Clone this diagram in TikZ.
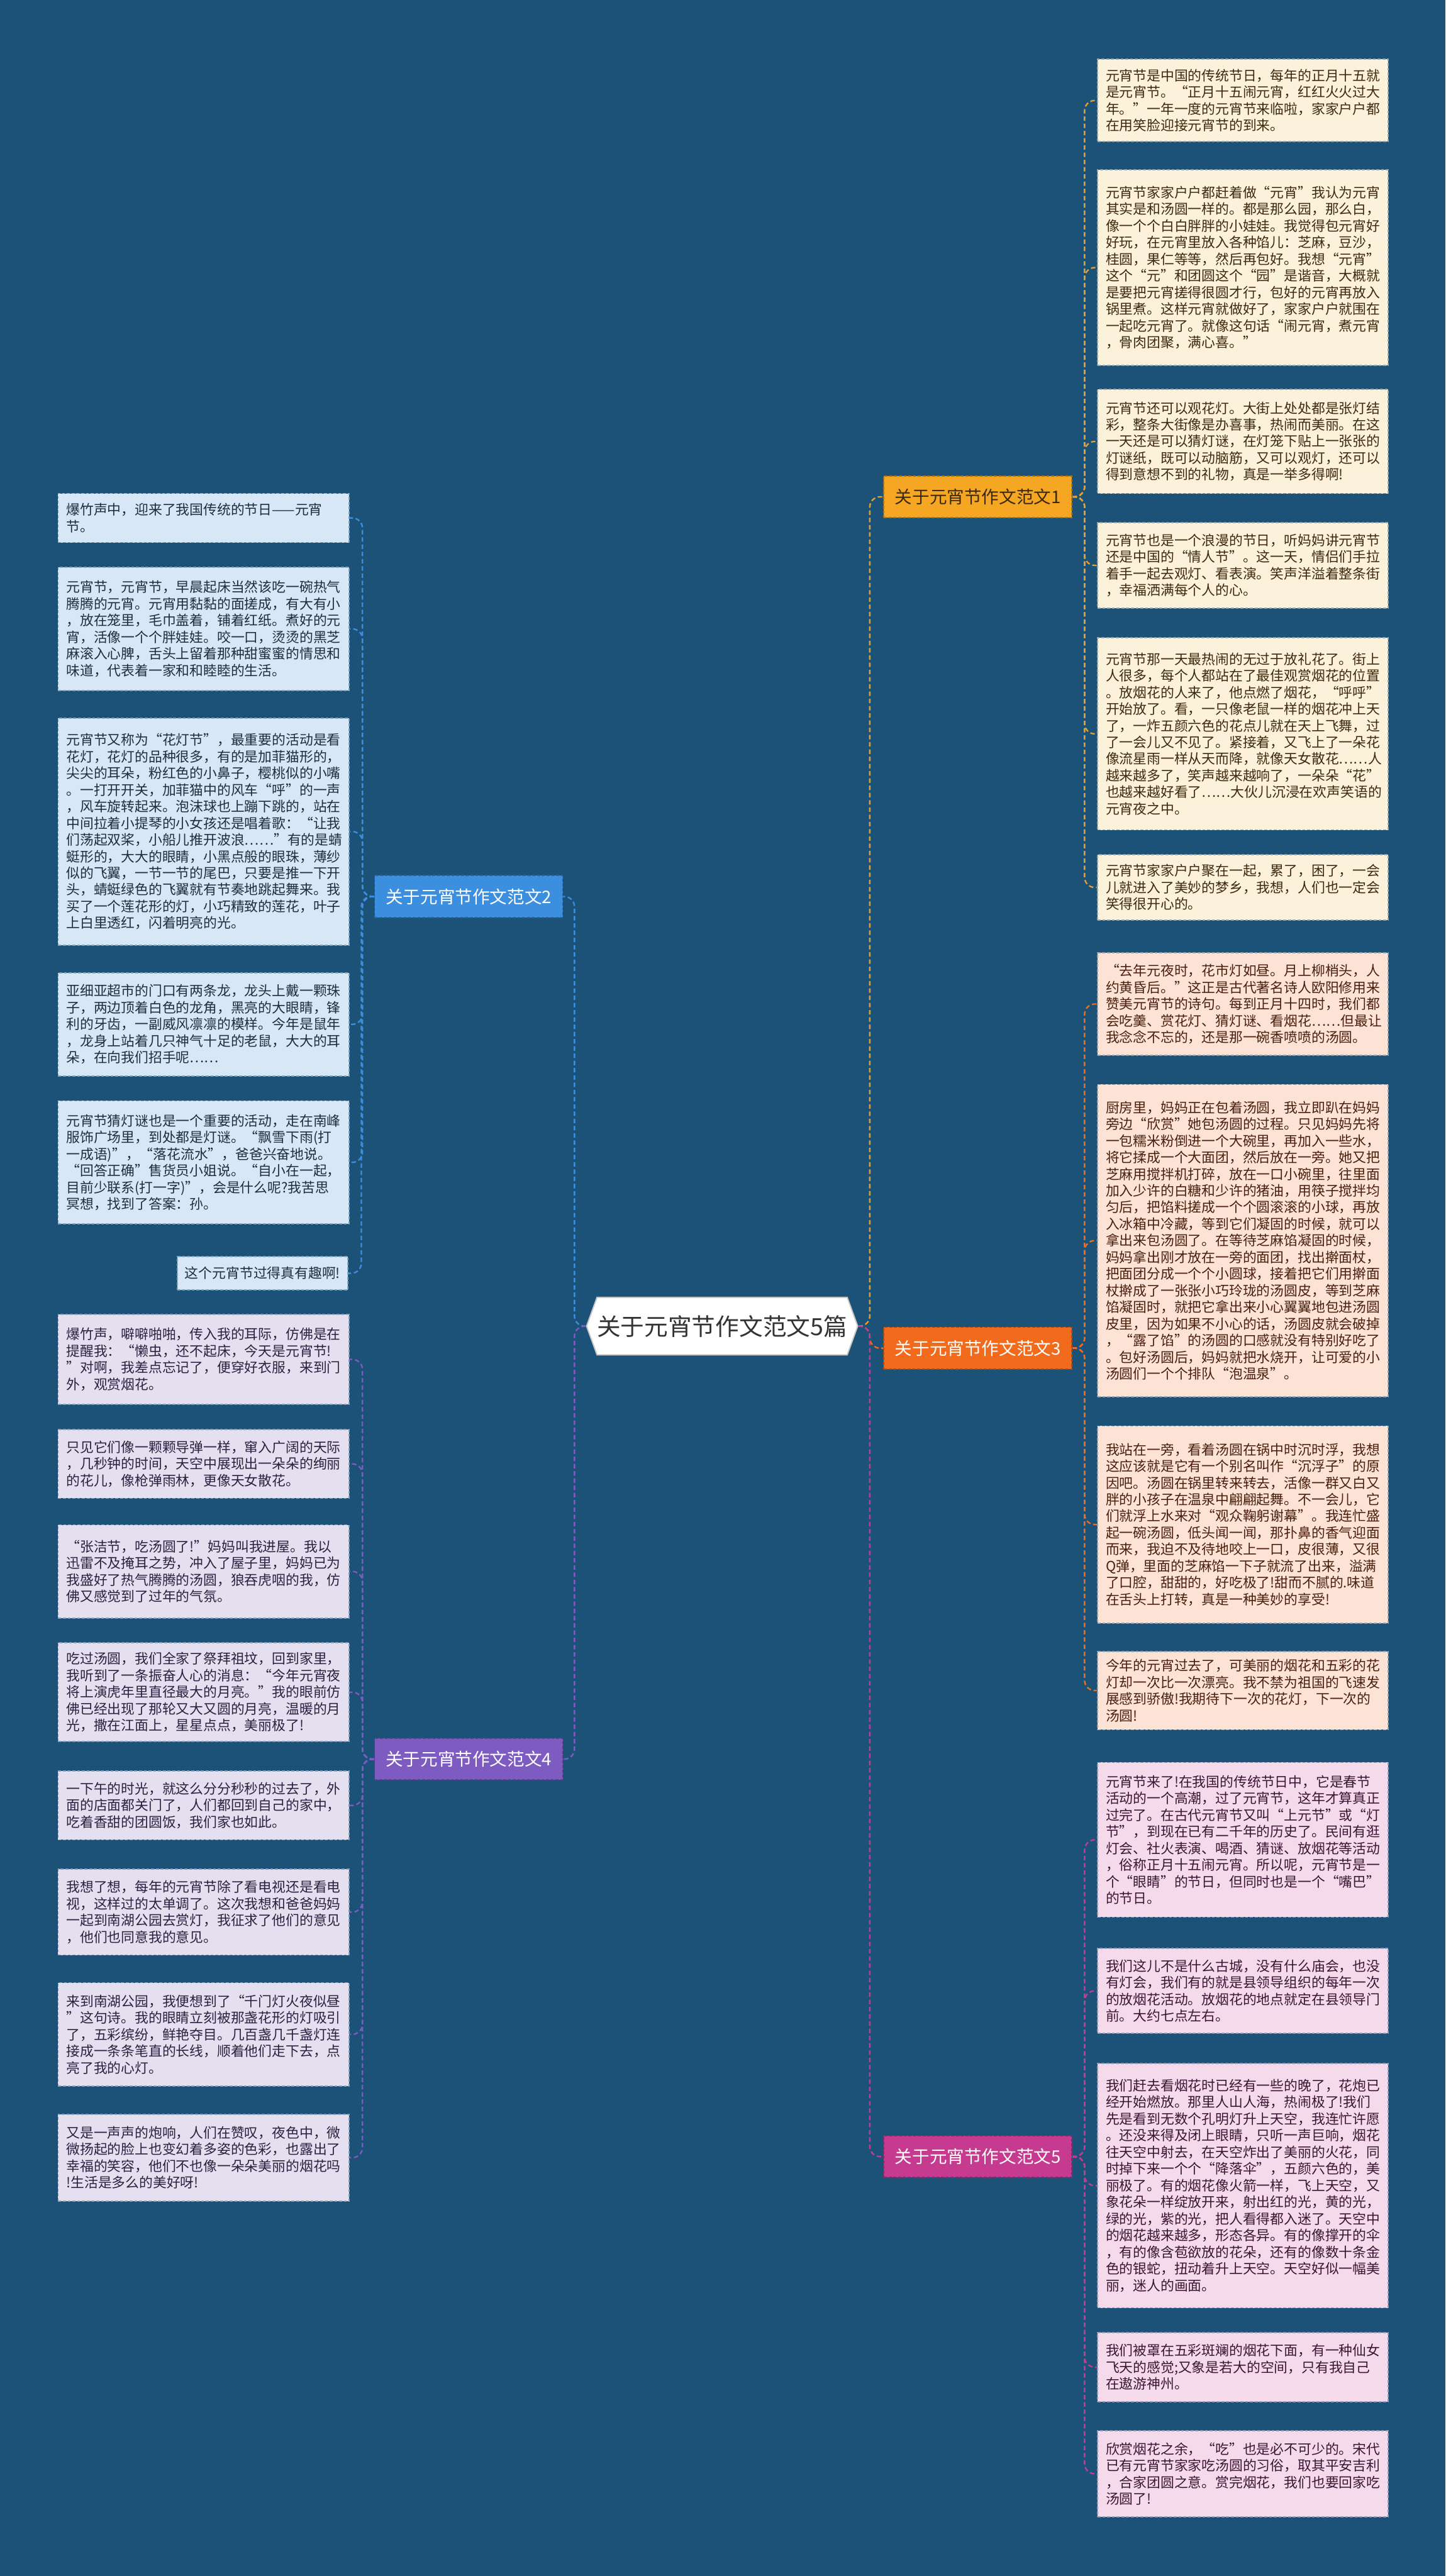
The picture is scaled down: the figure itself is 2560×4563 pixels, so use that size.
\documentclass[tikz,border=0pt]{standalone}
\usepackage{fontspec}
\setmainfont{Noto Sans CJK SC}
\usetikzlibrary{shapes.symbols}
\newlength\pxu
\setlength\pxu{0.02cm}
\definecolor{bgc}{HTML}{1C5277}
\definecolor{cA}{HTML}{F5A623}
\definecolor{cB}{HTML}{3C8FDE}
\definecolor{cC}{HTML}{F26B1D}
\definecolor{cD}{HTML}{7E5BC0}
\definecolor{cE}{HTML}{C63B8F}
\definecolor{fA}{HTML}{FCF1DA}
\definecolor{fB}{HTML}{D7E7F6}
\definecolor{fC}{HTML}{FCE3D5}
\definecolor{fD}{HTML}{E5E0F0}
\definecolor{fE}{HTML}{F5DAEC}
\definecolor{tA}{HTML}{3E2A0E}
\definecolor{tB}{HTML}{1F2D3D}
\definecolor{tC}{HTML}{4A1F0E}
\definecolor{tD}{HTML}{2B2140}
\definecolor{tE}{HTML}{3B1533}
\definecolor{ctext}{HTML}{333333}
\definecolor{bAtext}{HTML}{3A2A10}
\newcommand\myleaffont{\fontsize{13.83pt}{16.79pt}\selectfont}
\newcommand\mybranchfont{\fontsize{17.5pt}{20pt}\selectfont}
\newcommand\mycenterfont{\fontsize{23.9pt}{28pt}\selectfont}
\tikzset{
  x={(0.02cm,0)}, y={(0,-0.02cm)},
  hh/.style={minimum height=#1\pxu},
  leafbase/.style={rectangle, anchor=north west, minimum width=515\pxu, inner xsep=14.5\pxu, inner ysep=0pt, text width=486\pxu, align=left, font=\myleaffont, line width=1.1pt, dash pattern=on 3pt off 1.8pt},
  lA/.style={leafbase, fill=fA, draw=fA!55!bgc, text=tA},
  lB/.style={leafbase, fill=fB, draw=fB!55!bgc, text=tB},
  lC/.style={leafbase, fill=fC, draw=fC!55!bgc, text=tC},
  lD/.style={leafbase, fill=fD, draw=fD!55!bgc, text=tD},
  lE/.style={leafbase, fill=fE, draw=fE!55!bgc, text=tE},
  branch/.style={rectangle, minimum width=333\pxu, minimum height=74\pxu, inner sep=0pt, font=\mybranchfont, text=white, line width=1.1pt, dash pattern=on 3pt off 1.8pt},
  link/.style={line width=1.5pt, dash pattern=on 4.5pt off 2.8pt, rounded corners=18\pxu},
}
\begin{document}
\begin{tikzpicture}
\useasboundingbox (0,0) rectangle (2560,4563);
\fill[bgc] (0,0) rectangle (2560,4563);

% center
\node[signal, signal to=east and west, signal pointer angle=140, fill=white, draw=gray!45, line width=1.2pt, minimum width=480\pxu, minimum height=102\pxu, inner sep=0pt, font=\mycenterfont, text=ctext] (c) at (1279,2349) {关于元宵节作文范文5篇};

% branches
\node[branch, fill=cA, draw=cA!70!black, text=bAtext] (b1) at (1732,880) {关于元宵节作文范文1};
\node[branch, fill=cB, draw=cB!70!black] (b2) at (830,1588) {关于元宵节作文范文2};
\node[branch, fill=cC, draw=cC!70!black] (b3) at (1732,2388) {关于元宵节作文范文3};
\node[branch, fill=cD, draw=cD!70!black] (b4) at (830,3116) {关于元宵节作文范文4};
\node[branch, fill=cE, draw=cE!70!black] (b5) at (1732,3820) {关于元宵节作文范文5};

% branch 1 leaves
\node[lA,hh=146] (r1) at (1943,104) {元宵节是中国的传统节日，每年的正月十五就\\是元宵节。“正月十五闹元宵，红红火火过大\\年。”一年一度的元宵节来临啦，家家户户都\\在用笑脸迎接元宵节的到来。};
\node[lA,hh=346] (r2) at (1943,300) {元宵节家家户户都赶着做“元宵”我认为元宵\\其实是和汤圆一样的。都是那么园，那么白，\\像一个个白白胖胖的小娃娃。我觉得包元宵好\\好玩，在元宵里放入各种馅儿：芝麻，豆沙，\\桂圆，果仁等等，然后再包好。我想“元宵”\\这个“元”和团圆这个“园”是谐音，大概就\\是要把元宵搓得很圆才行，包好的元宵再放入\\锅里煮。这样元宵就做好了，家家户户就围在\\一起吃元宵了。就像这句话“闹元宵，煮元宵\\，骨肉团聚，满心喜。”};
\node[lA,hh=184] (r3) at (1943,689) {元宵节还可以观花灯。大街上处处都是张灯结\\彩，整条大街像是办喜事，热闹而美丽。在这\\一天还是可以猜灯谜，在灯笼下贴上一张张的\\灯谜纸，既可以动脑筋，又可以观灯，还可以\\得到意想不到的礼物，真是一举多得啊!};
\node[lA,hh=151] (r4) at (1943,925) {元宵节也是一个浪漫的节日，听妈妈讲元宵节\\还是中国的“情人节”。这一天，情侣们手拉\\着手一起去观灯、看表演。笑声洋溢着整条街\\，幸福洒满每个人的心。};
\node[lA,hh=340] (r5) at (1943,1129) {元宵节那一天最热闹的无过于放礼花了。街上\\人很多，每个人都站在了最佳观赏烟花的位置\\。放烟花的人来了，他点燃了烟花，“呼呼”\\开始放了。看，一只像老鼠一样的烟花冲上天\\了，一炸五颜六色的花点儿就在天上飞舞，过\\了一会儿又不见了。紧接着，又飞上了一朵花\\像流星雨一样从天而降，就像天女散花……人\\越来越多了，笑声越来越响了，一朵朵“花”\\也越来越好看了……大伙儿沉浸在欢声笑语的\\元宵夜之中。};
\node[lA,hh=116] (r6) at (1943,1513) {元宵节家家户户聚在一起，累了，困了，一会\\儿就进入了美妙的梦乡，我想，人们也一定会\\笑得很开心的。};

% branch 3 leaves
\node[lC,hh=181] (r7) at (1943,1687) {“去年元夜时，花市灯如昼。月上柳梢头，人\\约黄昏后。”这正是古代著名诗人欧阳修用来\\赞美元宵节的诗句。每到正月十四时，我们都\\会吃羹、赏花灯、猜灯谜、看烟花……但最让\\我念念不忘的，还是那一碗香喷喷的汤圆。};
\node[lC,hh=553] (r8) at (1943,1920) {厨房里，妈妈正在包着汤圆，我立即趴在妈妈\\旁边“欣赏”她包汤圆的过程。只见妈妈先将\\一包糯米粉倒进一个大碗里，再加入一些水，\\将它揉成一个大面团，然后放在一旁。她又把\\芝麻用搅拌机打碎，放在一口小碗里，往里面\\加入少许的白糖和少许的猪油，用筷子搅拌均\\匀后，把馅料搓成一个个圆滚滚的小球，再放\\入冰箱中冷藏，等到它们凝固的时候，就可以\\拿出来包汤圆了。在等待芝麻馅凝固的时候，\\妈妈拿出刚才放在一旁的面团，找出擀面杖，\\把面团分成一个个小圆球，接着把它们用擀面\\杖擀成了一张张小巧玲珑的汤圆皮，等到芝麻\\馅凝固时，就把它拿出来小心翼翼地包进汤圆\\皮里，因为如果不小心的话，汤圆皮就会破掉\\，“露了馅”的汤圆的口感就没有特别好吃了\\。包好汤圆后，妈妈就把水烧开，让可爱的小\\汤圆们一个个排队“泡温泉”。};
\node[lC,hh=349] (r9) at (1943,2525) {我站在一旁，看着汤圆在锅中时沉时浮，我想\\这应该就是它有一个别名叫作“沉浮子”的原\\因吧。汤圆在锅里转来转去，活像一群又白又\\胖的小孩子在温泉中翩翩起舞。不一会儿，它\\们就浮上水来对“观众鞠躬谢幕”。我连忙盛\\起一碗汤圆，低头闻一闻，那扑鼻的香气迎面\\而来，我迫不及待地咬上一口，皮很薄，又很\\Q弹，里面的芝麻馅一下子就流了出来，溢满\\了口腔，甜甜的，好吃极了!甜而不腻的.味道\\在舌头上打转，真是一种美妙的享受!};
\node[lC,hh=139] (r10) at (1943,2924) {今年的元宵过去了，可美丽的烟花和五彩的花\\灯却一次比一次漂亮。我不禁为祖国的飞速发\\展感到骄傲!我期待下一次的花灯，下一次的\\汤圆!};

% branch 5 leaves
\node[lE,hh=274] (r11) at (1943,3121) {元宵节来了!在我国的传统节日中，它是春节\\活动的一个高潮，过了元宵节，这年才算真正\\过完了。在古代元宵节又叫“上元节”或“灯\\节”，到现在已有二千年的历史了。民间有逛\\灯会、社火表演、喝酒、猜谜、放烟花等活动\\，俗称正月十五闹元宵。所以呢，元宵节是一\\个“眼睛”的节日，但同时也是一个“嘴巴”\\的节日。};
\node[lE,hh=151] (r12) at (1943,3450) {我们这儿不是什么古城，没有什么庙会，也没\\有灯会，我们有的就是县领导组织的每年一次\\的放烟花活动。放烟花的地点就定在县领导门\\前。大约七点左右。};
\node[lE,hh=433] (r13) at (1943,3654) {我们赶去看烟花时已经有一些的晚了，花炮已\\经开始燃放。那里人山人海，热闹极了!我们\\先是看到无数个孔明灯升上天空，我连忙许愿\\。还没来得及闭上眼睛，只听一声巨响，烟花\\往天空中射去，在天空炸出了美丽的火花，同\\时掉下来一个个“降落伞”，五颜六色的，美\\丽极了。有的烟花像火箭一样，飞上天空，又\\象花朵一样绽放开来，射出红的光，黄的光，\\绿的光，紫的光，把人看得都入迷了。天空中\\的烟花越来越多，形态各异。有的像撑开的伞\\，有的像含苞欲放的花朵，还有的像数十条金\\色的银蛇，扭动着升上天空。天空好似一幅美\\丽，迷人的画面。};
\node[lE,hh=122] (r14) at (1943,4131) {我们被罩在五彩斑斓的烟花下面，有一种仙女\\飞天的感觉;又象是若大的空间，只有我自己\\在遨游神州。};
\node[lE,hh=152] (r15) at (1943,4305) {欣赏烟花之余，“吃”也是必不可少的。宋代\\已有元宵节家家吃汤圆的习俗，取其平安吉利\\，合家团圆之意。赏完烟花，我们也要回家吃\\汤圆了!};

% branch 2 leaves
\node[lB,hh=87] (p1) at (102,873) {爆竹声中，迎来了我国传统的节日——元宵\\节。};
\node[lB,hh=218] (p2) at (102,1004) {元宵节，元宵节，早晨起床当然该吃一碗热气\\腾腾的元宵。元宵用黏黏的面搓成，有大有小\\，放在笼里，毛巾盖着，铺着红纸。煮好的元\\宵，活像一个个胖娃娃。咬一口，烫烫的黑芝\\麻滚入心脾，舌头上留着那种甜蜜蜜的情思和\\味道，代表着一家和和睦睦的生活。};
\node[lB,hh=402] (p3) at (102,1271) {元宵节又称为“花灯节”，最重要的活动是看\\花灯，花灯的品种很多，有的是加菲猫形的，\\尖尖的耳朵，粉红色的小鼻子，樱桃似的小嘴\\。一打开开关，加菲猫中的风车“呼”的一声\\，风车旋转起来。泡沫球也上蹦下跳的，站在\\中间拉着小提琴的小女孩还是唱着歌：“让我\\们荡起双桨，小船儿推开波浪……”有的是蜻\\蜓形的，大大的眼睛，小黑点般的眼珠，薄纱\\似的飞翼，一节一节的尾巴，只要是推一下开\\头，蜻蜓绿色的飞翼就有节奏地跳起舞来。我\\买了一个莲花形的灯，小巧精致的莲花，叶子\\上白里透红，闪着明亮的光。};
\node[lB,hh=183] (p4) at (102,1722) {亚细亚超市的门口有两条龙，龙头上戴一颗珠\\子，两边顶着白色的龙角，黑亮的大眼睛，锋\\利的牙齿，一副威风凛凛的模样。今年是鼠年\\，龙身上站着几只神气十足的老鼠，大大的耳\\朵，在向我们招手呢……};
\node[lB,hh=218] (p5) at (102,1949) {元宵节猜灯谜也是一个重要的活动，走在南峰\\服饰广场里，到处都是灯谜。“飘雪下雨(打\\一成语)”，“落花流水”，爸爸兴奋地说。\\“回答正确”售货员小姐说。“自小在一起，\\目前少联系(打一字)”，会是什么呢?我苦思\\冥想，找到了答案：孙。};
\node[lB,hh=59, anchor=north east, minimum width=302\pxu, text width=, align=right, inner xsep=12\pxu] (p6) at (617,2225) {这个元宵节过得真有趣啊!};

% branch 4 leaves
\node[lD,hh=160] (q1) at (102,2327) {爆竹声，噼噼啪啪，传入我的耳际，仿佛是在\\提醒我：“懒虫，还不起床，今天是元宵节!\\”对啊，我差点忘记了，便穿好衣服，来到门\\外，观赏烟花。};
\node[lD,hh=122] (q2) at (102,2531) {只见它们像一颗颗导弹一样，窜入广阔的天际\\，几秒钟的时间，天空中展现出一朵朵的绚丽\\的花儿，像枪弹雨林，更像天女散花。};
\node[lD,hh=165] (q3) at (102,2700) {“张洁节，吃汤圆了!”妈妈叫我进屋。我以\\迅雷不及掩耳之势，冲入了屋子里，妈妈已为\\我盛好了热气腾腾的汤圆，狼吞虎咽的我，仿\\佛又感觉到了过年的气氛。};
\node[lD,hh=175] (q4) at (102,2909) {吃过汤圆，我们全家了祭拜祖坟，回到家里，\\我听到了一条振奋人心的消息：“今年元宵夜\\将上演虎年里直径最大的月亮。”我的眼前仿\\佛已经出现了那轮又大又圆的月亮，温暖的月\\光，撒在江面上，星星点点，美丽极了!};
\node[lD,hh=122] (q5) at (102,3136) {一下午的时光，就这么分分秒秒的过去了，外\\面的店面都关门了，人们都回到自己的家中，\\吃着香甜的团圆饭，我们家也如此。};
\node[lD,hh=152] (q6) at (102,3310) {我想了想，每年的元宵节除了看电视还是看电\\视，这样过的太单调了。这次我想和爸爸妈妈\\一起到南湖公园去赏灯，我征求了他们的意见\\，他们也同意我的意见。};
\node[lD,hh=183] (q7) at (102,3511) {来到南湖公园，我便想到了“千门灯火夜似昼\\”这句诗。我的眼睛立刻被那盏花形的灯吸引\\了，五彩缤纷，鲜艳夺目。几百盏几千盏灯连\\接成一条条笔直的长线，顺着他们走下去，点\\亮了我的心灯。};
\node[lD,hh=154] (q8) at (102,3744) {又是一声声的炮响，人们在赞叹，夜色中，微\\微扬起的脸上也变幻着多姿的色彩，也露出了\\幸福的笑容，他们不也像一朵朵美丽的烟花吗\\!生活是多么的美好呀!};

% center to branches
\draw[link, draw=cA!85!gray] (c.east) -| ([xshift=-24\pxu]b1.west) -- (b1.west);
\draw[link, draw=cC] (c.east) -| ([xshift=-24\pxu]b3.west) -- (b3.west);
\draw[link, draw=cE] (c.east) -| ([xshift=-24\pxu]b5.west) -- (b5.west);
\draw[link, draw=cB] (c.west) -| ([xshift=20\pxu]b2.east) -- (b2.east);
\draw[link, draw=cD] (c.west) -| ([xshift=20\pxu]b4.east) -- (b4.east);

% branches to leaves
\foreach \l in {r1,r2,r3,r4,r5,r6}
  \draw[link, draw=cA!85!gray] (b1.east) -| ([xshift=-22\pxu]\l.west) -- (\l.west);
\foreach \l in {r7,r8,r9,r10}
  \draw[link, draw=cC] (b3.east) -| ([xshift=-22\pxu]\l.west) -- (\l.west);
\foreach \l in {r11,r12,r13,r14,r15}
  \draw[link, draw=cE] (b5.east) -| ([xshift=-22\pxu]\l.west) -- (\l.west);
\foreach \l in {p1,p2,p3,p4,p5,p6}
  \draw[link, draw=cB] (b2.west) -| ([xshift=23\pxu]\l.east) -- (\l.east);
\foreach \l in {q1,q2,q3,q4,q5,q6,q7,q8}
  \draw[link, draw=cD] (b4.west) -| ([xshift=23\pxu]\l.east) -- (\l.east);
\end{tikzpicture}
\end{document}
